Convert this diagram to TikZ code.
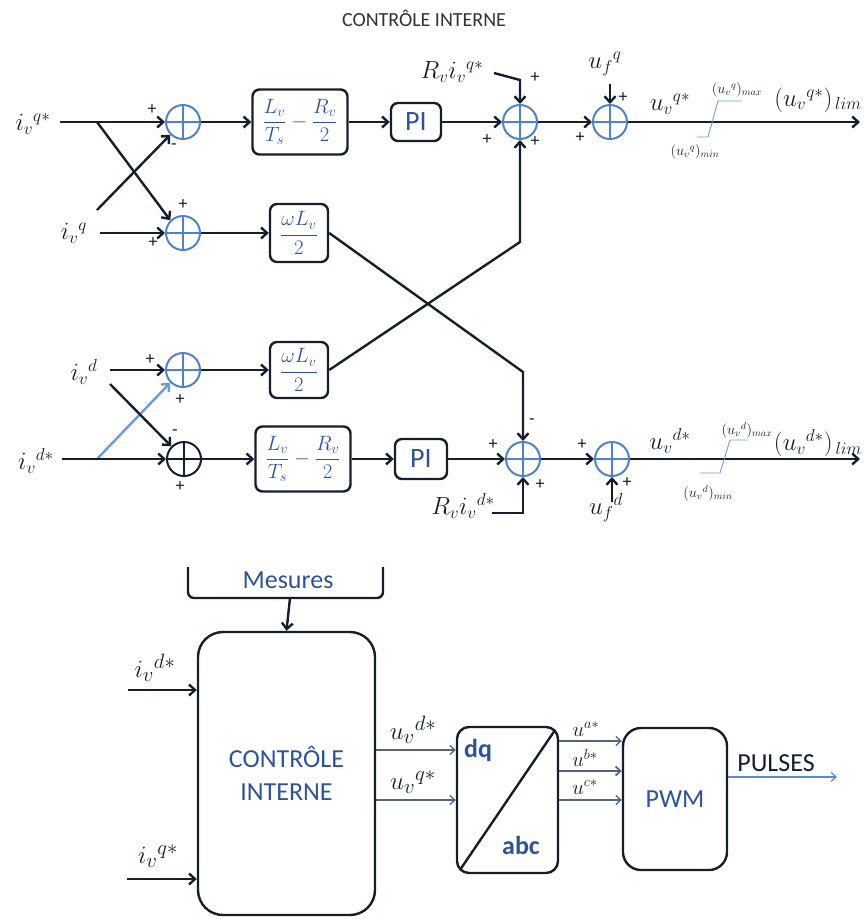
\documentclass[tikz,border=0pt]{standalone}
\usepackage{fontspec}
\setmainfont{Carlito}
\usetikzlibrary{arrows.meta,calc}
\definecolor{txtblue}{RGB}{46,84,150}
\definecolor{sumblue}{RGB}{80,130,200}
\definecolor{crossblue}{RGB}{110,155,215}
\definecolor{linecol}{RGB}{20,30,45}
\definecolor{thincol}{RGB}{85,100,125}
\definecolor{pulcol}{RGB}{90,140,205}
\definecolor{titlegray}{RGB}{50,50,50}
\begin{document}
\begin{tikzpicture}[x=1pt,y=-1pt,
  ln/.style={line width=2.4pt, draw=linecol},
  arr/.style={ln, -{Straight Barb[length=6pt,width=11pt]}},
  thinarr/.style={line width=1.3pt, draw=thincol, -{Straight Barb[length=5pt,width=9pt]}},
  sumc/.style={circle, draw=#1, line width=2pt, minimum size=34pt, inner sep=0pt,
    path picture={\draw[#1, line width=2pt] (path picture bounding box.north) -- (path picture bounding box.south)
      (path picture bounding box.west) -- (path picture bounding box.east);}},
  sumc/.default=sumblue,
  blk/.style={draw=linecol, line width=2.4pt, rounded corners=7pt, inner sep=0pt, text=txtblue,
    font=\fontsize{21}{26}\selectfont},
  bigbox/.style={draw=linecol, line width=2.4pt, inner sep=0pt},
  sg/.style={font=\fontsize{18}{18}\selectfont, inner sep=0pt, text=linecol},
  ml/.style={font=\fontsize{24}{28}\selectfont, inner sep=0pt, text=linecol},
  sml/.style={font=\fontsize{14}{15}\selectfont, inner sep=0pt, text=linecol},
  lim/.style={line width=0.9pt, draw=crossblue},
  btxt/.style={font=\fontsize{26}{33}\selectfont, text=txtblue, inner sep=0pt},
]
\useasboundingbox (0,0) rectangle (864,919);

% ---------- title
\node[font=\fontsize{20}{24}\selectfont, text=titlegray] (title) at (424,18) {CONTRÔLE INTERNE};

% ---------- q* row
\node[ml] (lqs) at (33,124) {${i_v}^{q*}$};
\coordinate (qin) at (60,122);
\coordinate (qs) at (97,122);
\node[sumc] (S1) at (183,122) {};
\node[blk, minimum width=95pt, minimum height=65pt] (B1) at (300,122) {$\displaystyle\frac{L_v}{T_s}-\frac{R_v}{2}$};
\node[blk, minimum width=50pt, minimum height=38pt, font=\fontsize{28}{30}\selectfont] (PI1) at (416,122) {PI};
\node[sumc] (S3) at (520,122) {};
\node[sumc] (S4) at (610,122) {};
\coordinate (qout) at (860,122);

% ---------- q row
\node[ml] (lq) at (74,233) {${i_v}^{q}$};
\coordinate (qmin) at (100,233);
\coordinate (qx) at (97,210);
\node[sumc] (S2) at (183,233) {};
\node[blk, minimum width=58pt, minimum height=58pt] (W1) at (299,233) {$\displaystyle\frac{\omega L_v}{2}$};

% ---------- d row
\node[ml] (ld) at (84,372) {${i_v}^{d}$};
\coordinate (din) at (110,370);
\coordinate (dx) at (110,384);
\node[sumc] (S6) at (183,370) {};
\node[blk, minimum width=58pt, minimum height=56pt] (W2) at (299,370) {$\displaystyle\frac{\omega L_v}{2}$};

% ---------- d* row
\node[ml] (lds) at (36,461) {${i_v}^{d*}$};
\coordinate (dsin) at (62,459);
\coordinate (dss) at (97,459);
\node[sumc=linecol] (S7) at (184,459) {};
\node[blk, minimum width=95pt, minimum height=65pt] (B2) at (303,459) {$\displaystyle\frac{L_v}{T_s}-\frac{R_v}{2}$};
\node[blk, minimum width=52pt, minimum height=40pt, font=\fontsize{28}{30}\selectfont] (PI2) at (421,459) {PI};
\node[sumc] (S5) at (523,459) {};
\node[sumc] (S8) at (612,459) {};
\coordinate (dout) at (860,459);

% ---------- connectors (top)
\draw[arr] (qin) -- (S1.west);
\draw[arr] (qs) -- (S2.135);
\draw[arr] (qx) -- (S1.225);
\draw[arr] (qmin) -- (S2.west);
\draw[arr] (S1) -- (B1);
\draw[arr] (B1) -- (PI1);
\draw[arr] (PI1) -- (S3);
\draw[arr] (S3) -- (S4);
\draw[arr] (S4.east) -- (qout);
\draw[arr] (S2) -- (W1);

% ---------- cross couplings
\coordinate (bA) at (523,372);
\coordinate (bB) at (520,242);
\draw[arr] (W1.east) -- (bA) -- (S5.north);
\draw[arr] (W2.east) -- (bB) -- (S3.south);

% ---------- connectors (bottom)
\draw[arr] (din) -- (S6.west);
\draw[arr, draw=crossblue] (dss) -- (S6.225);
\draw[arr] (dx) -- (S7.135);
\draw[arr] (dsin) -- (S7.west);
\draw[arr] (S6) -- (W2);
\draw[arr] (S7) -- (B2);
\draw[arr] (B2) -- (PI2);
\draw[arr] (PI2) -- (S5);
\draw[arr] (S5) -- (S8);
\draw[arr] (S8.east) -- (dout);

% ---------- extra inputs
\node[ml] (lRq) at (452,72) {$R_v{i_v}^{q*}$};
\coordinate (rq1) at (494,73);
\coordinate (rq2) at (520,80);
\draw[arr] (rq1) -- (rq2) -- (S3.north);
\node[ml] (lufq) at (605,64) {${u_f}^{q}$};
\coordinate (ufq) at (610,84);
\draw[arr] (ufq) -- (S4.north);

\node[ml] (lRd) at (463,506) {$R_v{i_v}^{d*}$};
\coordinate (rd1) at (492,513);
\coordinate (rd2) at (523,513);
\draw[arr] (rd1) -- (rd2) -- (S5.south);
\node[ml] (lufd) at (606,508) {${u_f}^{d}$};
\coordinate (ufd) at (612,502);
\draw[arr] (ufd) -- (S8.south);

% ---------- outputs and limits
\node[ml] (luq) at (670,104) {${u_v}^{q*}$};
\draw[lim] (697,137) -- (708,137) -- (718,101) -- (742,101);
\node[sml] (lmaxq) at (737,90) {$({u_v}^{q})_{max}$};
\node[sml] (lminq) at (695,152) {$({u_v}^{q})_{min}$};
\node[ml] (llimq) at (818,100) {$({u_v}^{q*})_{\,lim}$};

\node[ml] (lud) at (670,441) {${u_v}^{d*}$};
\draw[lim] (700,473) -- (720,473) -- (730,440) -- (748,440);
\node[sml] (lmaxd) at (747,430) {$({u_v}^{d})_{max}$};
\node[sml] (lmind) at (708,493) {$({u_v}^{d})_{min}$};
\node[ml] (llimd) at (818,443) {$({u_v}^{d*})_{\,lim}$};

% ---------- signs
\node[sg] (p1) at (152,110) {+};
\node[sg] (p2) at (174,147) {-};
\node[sg] (p3) at (183,205) {+};
\node[sg] (p4) at (153,243) {+};
\node[sg] (p5) at (535,78) {+};
\node[sg] (p6) at (623,98) {+};
\node[sg] (p7) at (487,140) {+};
\node[sg] (p8) at (535,142) {+};
\node[sg] (p9) at (580,138) {+};
\node[sg] (p10) at (150,360) {+};
\node[sg] (p11) at (180,400) {+};
\node[sg] (p12) at (175,433) {-};
\node[sg] (p13) at (180,487) {+};
\node[sg] (p14) at (532,422) {-};
\node[sg] (p15) at (493,445) {+};
\node[sg] (p16) at (540,485) {+};
\node[sg] (p17) at (582,445) {+};
\node[sg] (p18) at (627,483) {+};

% ================= bottom diagram
\coordinate (m1) at (188,567);
\coordinate (m2) at (383,567);
\draw[ln, rounded corners=6pt] (m1) -- (188,598) -- (383,598) -- (m2);
\node[btxt] (mes) at (288,580) {Mesures};
\coordinate (mesb) at (290,598);

\node[bigbox, rounded corners=25pt, minimum width=177pt, minimum height=283pt, align=center,
  font=\fontsize{26}{33}\selectfont, text=txtblue] (CI) at (286.5,773.5) {CONTRÔLE\\INTERNE};
\draw[arr] (mesb) -- (CI.north);

\node[ml, font=\fontsize{28}{30}\selectfont] (lids) at (155,668) {${i_v}^{d*}$};
\coordinate (idsin) at (128,690);
\draw[arr] (idsin) -- (idsin -| CI.west);
\node[ml, font=\fontsize{28}{30}\selectfont] (liqs) at (158,856) {${i_v}^{q*}$};
\coordinate (iqsin) at (127,879);
\draw[arr] (iqsin) -- (iqsin -| CI.west);

\node[bigbox, rounded corners=12pt, minimum width=101pt, minimum height=146pt] (DQ) at (507.5,800) {};
\draw[ln] ($(DQ.south west)+(4,-4)$) -- ($(DQ.north east)+(-4,4)$);
\node[btxt, font=\bfseries\fontsize{26}{30}\selectfont] (tdq) at (478,750) {dq};
\node[btxt, font=\bfseries\fontsize{26}{30}\selectfont] (tabc) at (521,845) {abc};

\node[ml, font=\fontsize{28}{30}\selectfont] (lud2) at (413,730) {${u_v}^{d*}$};
\node[ml, font=\fontsize{28}{30}\selectfont] (luq2) at (413,782) {${u_v}^{q*}$};
\coordinate (yud) at (413,750);
\coordinate (yuq) at (413,800);
\draw[thinarr] (yud -| CI.east) -- (yud -| DQ.west);
\draw[thinarr] (yuq -| CI.east) -- (yuq -| DQ.west);

\node[bigbox, rounded corners=18pt, minimum width=104pt, minimum height=142pt, font=\fontsize{26}{30}\selectfont, text=txtblue] (PWM) at (675,799) {PWM};

\node[ml, font=\fontsize{20}{22}\selectfont] (la) at (586,729) {$u^{a*}$};
\node[ml, font=\fontsize{20}{22}\selectfont] (lb) at (585,758) {$u^{b*}$};
\node[ml, font=\fontsize{20}{22}\selectfont] (lc) at (585,787) {$u^{c*}$};
\coordinate (ya) at (590,741);
\coordinate (yb) at (590,771);
\coordinate (yc) at (590,800);
\draw[thinarr] (ya -| DQ.east) -- (ya -| PWM.west);
\draw[thinarr, line width=1.7pt] (yb -| DQ.east) -- (yb -| PWM.west);
\draw[thinarr] (yc -| DQ.east) -- (yc -| PWM.west);

\node[font=\fontsize{26}{30}\selectfont, text=linecol, inner sep=0pt] (pul) at (776,763) {PULSES};
\coordinate (pulend) at (837,777);
\draw[line width=1.2pt, draw=pulcol, -{Straight Barb[length=5pt,width=9pt]}] (pulend -| PWM.east) -- (pulend);
\end{tikzpicture}
\end{document}
